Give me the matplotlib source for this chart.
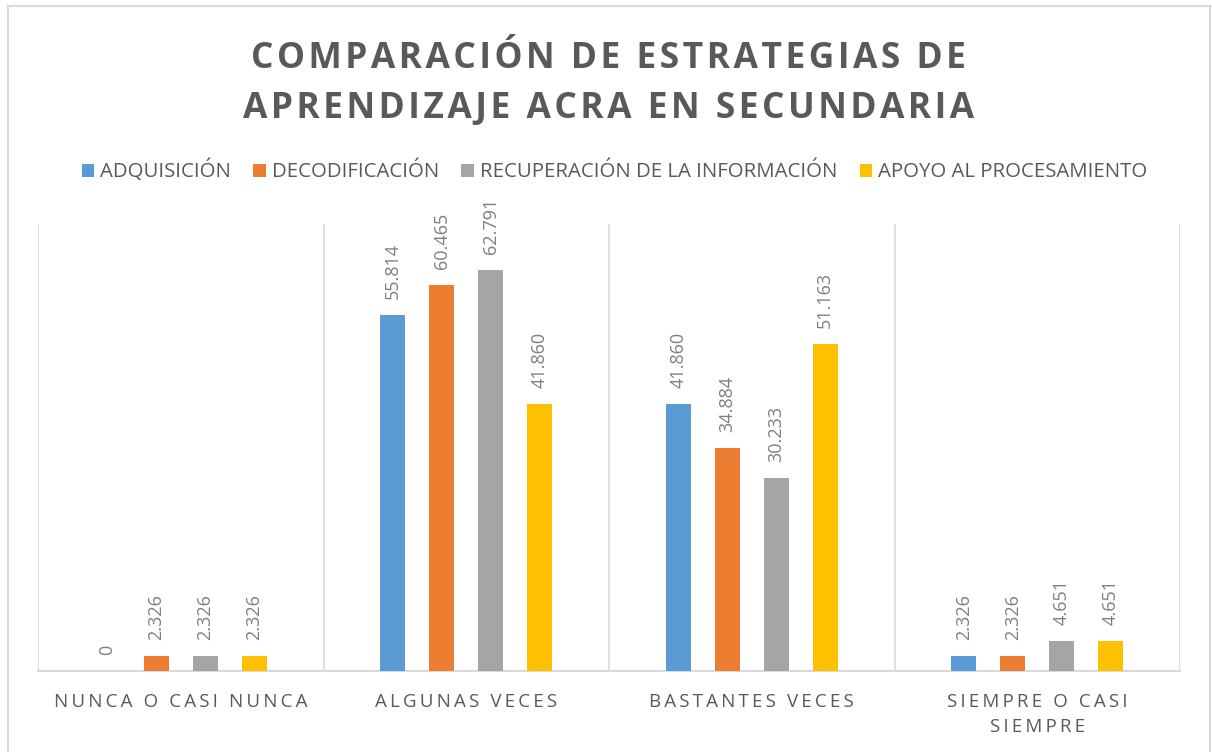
import numpy as np
import matplotlib
matplotlib.use("Agg")
import matplotlib.pyplot as plt
from matplotlib.patches import Patch, Rectangle

# Data
categories = ["NUNCA O CASI NUNCA", "ALGUNAS VECES", "BASTANTES VECES", "SIEMPRE O CASI\nSIEMPRE"]
series_names = ["ADQUISICIÓN", "DECODIFICACIÓN", "RECUPERACIÓN DE LA INFORMACIÓN", "APOYO AL PROCESAMIENTO"]
adquisicion = [0, 55.814, 41.860, 2.326]
decodificacion = [2.326, 60.465, 34.884, 2.326]
recuperacion = [2.326, 62.791, 30.233, 4.651]
apoyo = [2.326, 41.860, 51.163, 4.651]
value_labels = [
    ["0", "55.814", "41.860", "2.326"],
    ["2.326", "60.465", "34.884", "2.326"],
    ["2.326", "62.791", "30.233", "4.651"],
    ["2.326", "41.860", "51.163", "4.651"],
]

colors = ["#5B9BD5", "#ED7D31", "#A5A5A5", "#FFC000"]
text_gray = "#595959"
grid_gray = "#D9D9D9"

plt.rcParams['font.family'] = ['Open Sans', 'DejaVu Sans']


def spaced(s, sp="\u2009"):
    # fake letter spacing like the Excel chart
    return "\n".join(sp.join(line) for line in s.split("\n"))


fig = plt.figure(figsize=(12.12, 7.52), dpi=100)
ax = fig.add_axes([38 / 1212, 1 - 671 / 752, (1180 - 38) / 1212, (671 - 224) / 752])

x = np.arange(len(categories))
step = 0.1716
width = 0.0876
all_series = [adquisicion, decodificacion, recuperacion, apoyo]
for i, (vals, col) in enumerate(zip(all_series, colors)):
    pos = x + (i - 1.5) * step
    ax.bar(pos, vals, width=width, color=col, zorder=3)
    for px, v, lab in zip(pos, vals, value_labels[i]):
        ax.annotate(lab, (px, v), xytext=(0, 11.5), textcoords="offset points",
                    rotation=90, ha="center", va="bottom", fontsize=13, color="#7F7F7F")

ax.set_xlim(-0.5, 3.5)
ax.set_ylim(0, 70)
ax.set_yticks([])
ax.set_xticks(x)
ax.set_xticklabels([spaced(c) for c in categories], fontsize=13.5, color=text_gray, linespacing=1.45)
ax.tick_params(axis="x", length=0, pad=16)
ax.set_xticks(np.arange(-0.5, 4, 1), minor=True)
ax.tick_params(axis="x", which="minor", length=0)
ax.grid(which="minor", axis="x", color=grid_gray, linewidth=1.2, zorder=0)
for side in ["top", "left", "right"]:
    ax.spines[side].set_visible(False)
ax.spines["bottom"].set_color(grid_gray)
ax.spines["bottom"].set_linewidth(1.5)

fig.text(0.502, 1 - 84 / 752, spaced("COMPARACIÓN DE ESTRATEGIAS DE\nAPRENDIZAJE ACRA EN SECUNDARIA", "\u200a"),
         ha="center", va="center", fontsize=25.5, fontweight="bold", color=text_gray, linespacing=1.52)

handles = [Patch(facecolor=c, edgecolor="none") for c in colors]
fig.legend(handles, series_names, loc="center", bbox_to_anchor=(0.507, 1 - 171 / 752), ncol=4,
           frameon=False, fontsize=14.7, labelcolor=text_gray, handlelength=0.6, handleheight=0.6,
           handletextpad=0.3, columnspacing=1.1)

fig.patches.append(Rectangle((8 / 1212, -0.05), 1202 / 1212, 1.05 - 6 / 752, transform=fig.transFigure,
                             fill=False, edgecolor=grid_gray, linewidth=1.5))

fig.savefig("out.png", dpi=100)
